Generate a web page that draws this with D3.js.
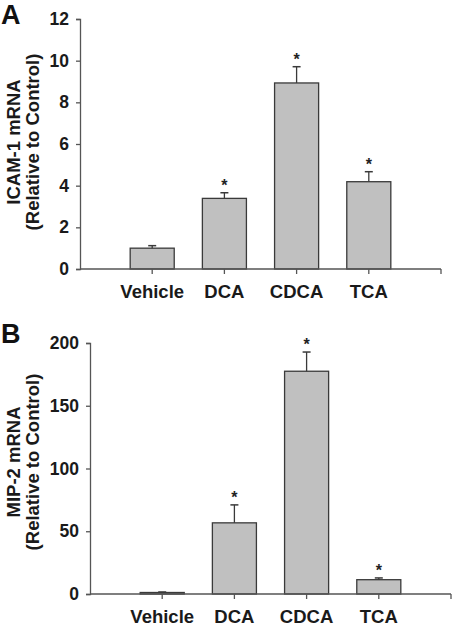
<!DOCTYPE html>
<html>
<head>
<meta charset="utf-8">
<script src="https://cdn.jsdelivr.net/npm/d3@7/dist/d3.min.js"></script>
<style>
  html, body { margin: 0; padding: 0; background: #fff; }
  svg { display: block; font-family: "Liberation Sans", Arial, sans-serif; }
</style>
</head>
<body>
<svg id="chart" width="453" height="629"></svg>
<script>
// ---- data ----
const categories = ["Vehicle", "DCA", "CDCA", "TCA"];

const icamMean = [1.0, 3.39, 8.93, 4.19];
const icamErr  = [0.12, 0.27, 0.78, 0.48];
const icamSig  = [false, true, true, true];
const icamTicks = [0, 2, 4, 6, 8, 10, 12];

const mipMean = [1.2, 56.7, 177.5, 11.4];
const mipErr  = [0.4, 14.3, 15.3, 1.4];
const mipSig  = [false, true, true, true];
const mipTicks = [0, 50, 100, 150, 200];

const svg = d3.select("#chart");
const axisColor = "#555";

function drawPanel(opt) {
  const g = svg.append("g");
  const x = d3.scalePoint().domain(categories).range([opt.x0, opt.x1]).padding(1);
  const y = d3.scaleLinear().domain(opt.domain).range([opt.yBottom, opt.yTop]);
  const bw = x.step() * 0.61;

  // panel letter
  g.append("text").attr("x", 1).attr("y", opt.letterY)
    .attr("font-size", 27).attr("font-weight", "bold").attr("fill", "#111")
    .text(opt.letter);

  // y axis
  const yAxis = d3.axisLeft(y).tickValues(opt.ticks).tickSize(4).tickPadding(7)
    .tickFormat(d3.format("d"));
  const ya = g.append("g").attr("transform", `translate(${opt.x0},0)`).call(yAxis);
  ya.select(".domain").attr("stroke", axisColor).attr("stroke-width", 1.3);
  ya.selectAll(".tick line").attr("stroke", axisColor).attr("stroke-width", 1.3);
  ya.selectAll(".tick text").attr("font-size", 17.5).attr("font-weight", "bold")
    .attr("fill", "#1a1a1a").attr("font-family", "Liberation Sans, Arial, sans-serif");

  // bars
  g.selectAll("rect.bar").data(opt.mean).enter().append("rect")
    .attr("class", "bar")
    .attr("x", (d, i) => x(categories[i]) - bw / 2)
    .attr("y", d => y(d))
    .attr("width", bw)
    .attr("height", d => y(0) - y(d))
    .attr("fill", "#c0c0c0")
    .attr("stroke", "#3a3a3a")
    .attr("stroke-width", 1.3);

  // error bars (upper only)
  const capW = 8;
  opt.mean.forEach((m, i) => {
    const cx = x(categories[i]);
    g.append("line").attr("x1", cx).attr("x2", cx)
      .attr("y1", y(m)).attr("y2", y(m + opt.err[i]))
      .attr("stroke", "#3a3a3a").attr("stroke-width", 1.3);
    g.append("line").attr("x1", cx - capW / 2).attr("x2", cx + capW / 2)
      .attr("y1", y(m + opt.err[i])).attr("y2", y(m + opt.err[i]))
      .attr("stroke", "#3a3a3a").attr("stroke-width", 1.5);
    if (opt.sig[i]) {
      g.append("text").attr("x", cx).attr("y", y(m + opt.err[i]) - 2)
        .attr("text-anchor", "middle").attr("font-size", 16).attr("font-weight", "bold")
        .attr("fill", "#222").text("*");
    }
  });

  // x axis
  const xa = g.append("g").attr("transform", `translate(0,${opt.yBottom})`);
  xa.append("line").attr("x1", opt.x0).attr("x2", opt.x1)
    .attr("stroke", axisColor).attr("stroke-width", 1.3);
  const tickPos = categories.map(c => x(c)).concat([x(categories[categories.length - 1]) + x.step()]);
  xa.selectAll("line.xt").data(tickPos).enter().append("line")
    .attr("class", "xt").attr("x1", d => d).attr("x2", d => d)
    .attr("y1", 0).attr("y2", 5).attr("stroke", axisColor).attr("stroke-width", 1.3);
  xa.selectAll("text").data(categories).enter().append("text")
    .attr("x", d => x(d)).attr("y", 29)
    .attr("text-anchor", "middle").attr("font-size", 18.5).attr("font-weight", "bold")
    .attr("fill", "#1a1a1a").text(d => d);

  // y axis title (two lines, rotated)
  const cy = opt.titleY;
  const t = g.append("text").attr("transform", `translate(0,${cy}) rotate(-90)`)
    .attr("text-anchor", "middle").attr("font-size", 18.5).attr("font-weight", "bold")
    .attr("fill", "#1a1a1a");
  t.append("tspan").attr("x", 0).attr("y", 20).text(opt.title1);
  t.append("tspan").attr("x", 0).attr("y", 39).text(opt.title2);
}

drawPanel({
  letter: "A", letterY: 24,
  x0: 80, x1: 441, yTop: 19, yBottom: 269,
  domain: [0, 12], ticks: icamTicks,
  mean: icamMean, err: icamErr, sig: icamSig,
  title1: "ICAM-1 mRNA", title2: "(Relative to Control)", titleY: 142
});

drawPanel({
  letter: "B", letterY: 343,
  x0: 90, x1: 451, yTop: 343, yBottom: 594,
  domain: [0, 200], ticks: mipTicks,
  mean: mipMean, err: mipErr, sig: mipSig,
  title1: "MIP-2 mRNA", title2: "(Relative to Control)", titleY: 462
});
</script>
</body>
</html>
